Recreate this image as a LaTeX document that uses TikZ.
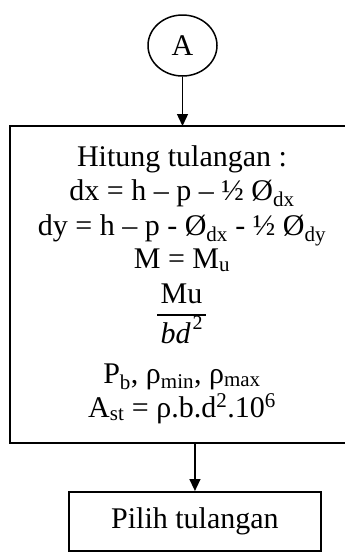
\documentclass[tikz,border=0pt]{standalone}
\usepackage{fontspec}
\setmainfont{Liberation Serif}
\usetikzlibrary{shapes.geometric,arrows.meta}
\tikzset{
  box/.style={draw, line width=1.9pt, rectangle, inner sep=0pt},
  openbox/.style={line width=1.9pt},
  conn/.style={line width=1.4pt, -{Triangle[length=12pt,width=11pt]}},
  txt/.style={anchor=base, inner sep=0pt, font=\fontsize{30}{34}\selectfont}
}
\newcommand{\sbx}[1]{\textsubscript{#1}}
\newcommand{\spx}[1]{\textsuperscript{#1}}
\begin{document}
\begin{tikzpicture}[x=1pt,y=-1pt]
\useasboundingbox (0,0) rectangle (345,552);
\node[draw, line width=1.5pt, ellipse, minimum width=69pt, minimum height=61pt, inner sep=0pt, font=\fontsize{30}{34}\selectfont] (A) at (182.5,45.5) {A};
\node[inner sep=0pt, minimum width=340pt, minimum height=317pt, anchor=north west] (calc) at (10,126) {};
\draw[openbox] (calc.north east) -- (calc.north west) -- (calc.south west) -- (calc.south east);
\node[box, minimum width=252pt, minimum height=59pt, anchor=north west, font=\fontsize{30}{34}\selectfont] (pilih) at (68,491) {Pilih tulangan};
\draw[conn] (A.south) -- (A.south |- calc.north);
\draw[conn] (pilih.north |- calc.south) -- (pilih.north);
\node[txt] (l1) at (182,166) {Hitung tulangan :};
\node[txt] (l2) at (182,200) {dx = h – p – ½ Ø\sbx{dx}};
\node[txt] (l3) at (182,235) {dy = h – p - Ø\sbx{dx} - ½ Ø\sbx{dy}};
\node[txt] (l4) at (182,268) {M = M\sbx{u}};
\node[txt] (l5) at (181.5,303) {Mu};
\coordinate (fl) at (157,315);
\coordinate (fr) at (206,315);
\draw[line width=1.2pt] (fl) -- (fr);
\node[txt] (l6) at (181.5,343) {\itshape bd\kern2pt\raisebox{14pt}{\fontsize{20}{20}\selectfont\upshape 2}};
\node[txt] (l7) at (182,383) {P\sbx{b}, ρ\sbx{min}, ρ\sbx{max}};
\node[txt] (l8) at (182,417) {A\sbx{st} = ρ.b.d\spx{2}.10\spx{6}};
\end{tikzpicture}
\end{document}
